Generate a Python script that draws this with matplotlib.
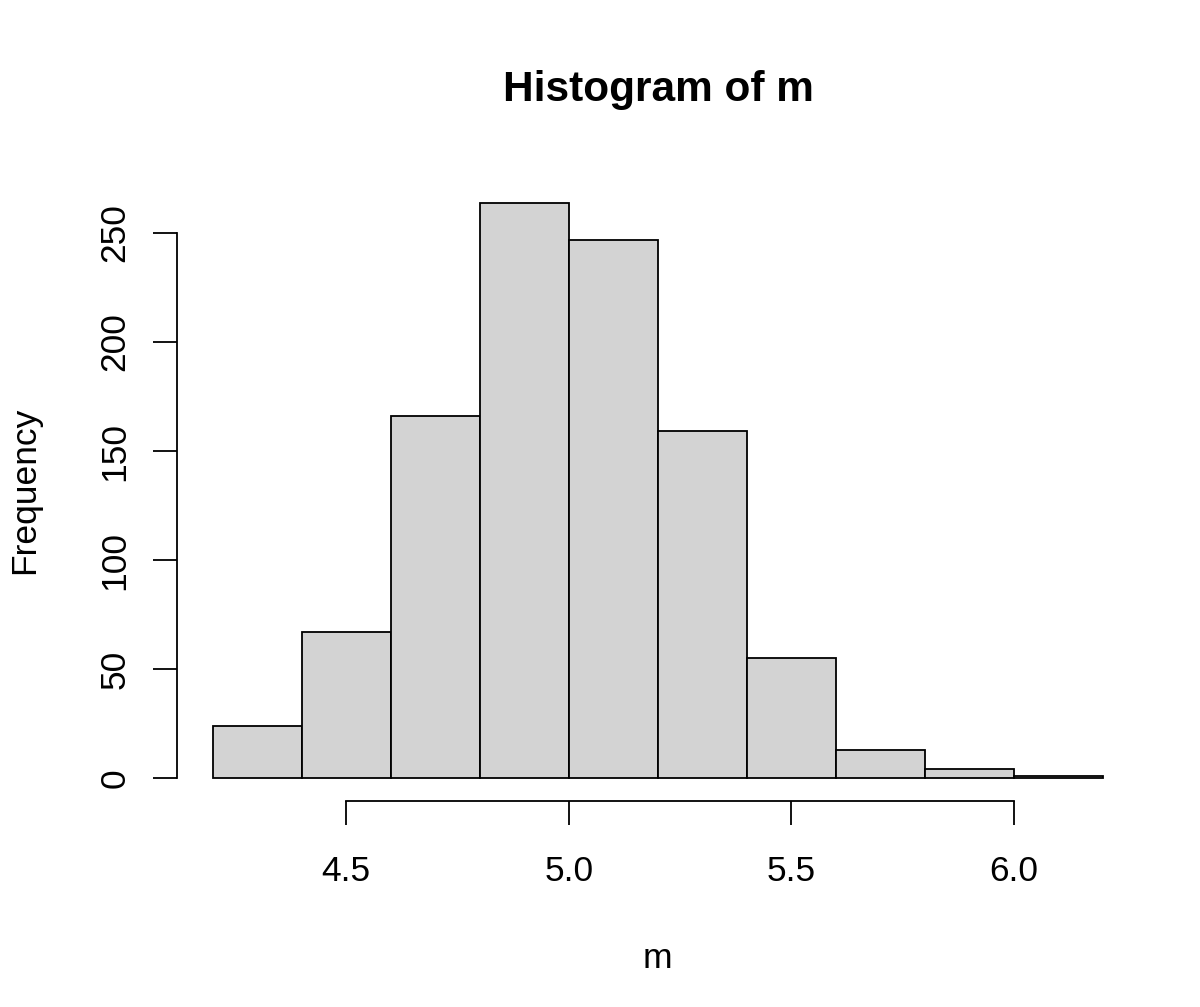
import matplotlib
matplotlib.use("Agg")
import matplotlib.pyplot as plt

# histogram of m: bin edges and counts
edges = [4.2, 4.4, 4.6, 4.8, 5.0, 5.2, 5.4, 5.6, 5.8, 6.0, 6.2]
counts = [24, 67, 166, 264, 247, 159, 55, 13, 4, 1]
xticks = [4.5, 5.0, 5.5, 6.0]
yticks = [0, 50, 100, 150, 200, 250]

plt.rcParams['font.family'] = ['Liberation Sans', 'DejaVu Sans']

W, H = 1200, 1007
fig = plt.figure(figsize=(W / 100, H / 100), dpi=100)
ax = fig.add_axes([177 / W, 1 - 801 / H, (1138.6 - 177) / W, (801 - 179.5) / H])

widths = [edges[i + 1] - edges[i] for i in range(len(counts))]
ax.bar(edges[:-1], counts, width=widths, align='edge',
       color='#d3d3d3', edgecolor='black', linewidth=1.3)

# R style: range padded by 4%
xr = edges[-1] - edges[0]
ax.set_xlim(edges[0] - 0.04 * xr, edges[-1] + 0.04 * xr)
ymax = max(counts)
ax.set_ylim(-0.04 * ymax, ymax * 1.04)

for s in ['top', 'right']:
    ax.spines[s].set_visible(False)
ax.spines['bottom'].set_bounds(xticks[0], xticks[-1])
ax.spines['left'].set_bounds(yticks[0], yticks[-1])
for s in ['bottom', 'left']:
    ax.spines[s].set_linewidth(1.3)

ax.set_xticks(xticks)
ax.set_xticklabels([f"{t:.1f}" for t in xticks])
ax.set_yticks(yticks)
ax.set_yticklabels([str(t) for t in yticks], rotation=90, va='center')
ax.tick_params(axis='both', direction='out', length=17, width=1.3,
               labelsize=25.5)
ax.tick_params(axis='x', pad=22)
ax.tick_params(axis='y', pad=16)

fig.text(658 / W, 1 - 90 / H, "Histogram of m", ha='center', va='center',
         fontsize=30.5, fontweight='bold')
fig.text(657 / W, 1 - 958 / H, "m", ha='center', va='center', fontsize=25.5)
fig.text(25 / W, 1 - 490 / H, "Frequency", ha='center', va='center',
         fontsize=25.5, rotation=90)

fig.savefig("out.png", dpi=100, facecolor='white')
